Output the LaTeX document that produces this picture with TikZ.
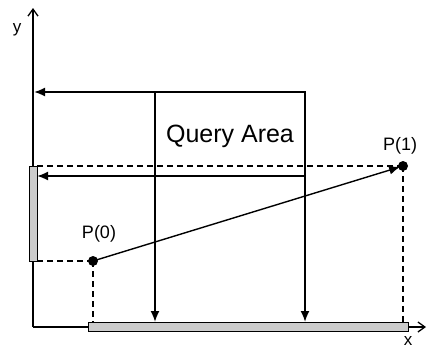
\documentclass[tikz,border=0pt]{standalone}
\usepackage{fontspec}
\setmainfont{Liberation Sans}
\usetikzlibrary{arrows.meta}
\begin{document}
\begin{tikzpicture}[x=1pt,y=-1pt,
  axis/.style={line width=1.3pt,-{Straight Barb[length=7pt,width=10pt]}},
  proj/.style={line width=1.8pt,-{Latex[length=11pt,width=9pt]}},
  guide/.style={line width=1.4pt,dash pattern=on 6pt off 4pt},
  barbox/.style={draw,line width=1pt,fill=gray!40},
  dot/.style={circle,fill,inner sep=0pt,minimum size=10pt},
  lbl/.style={font=\fontsize{18}{20}\selectfont},
  axlbl/.style={font=\fontsize{17}{19}\selectfont}]
\useasboundingbox (0,0) rectangle (428,349);

% axes
\coordinate (O) at (33,327);
\coordinate (Xend) at (426,327);
\coordinate (Yend) at (33,8);
\draw[axis] (O) -- (Xend);
\draw[axis] (O) -- (Yend);
\node[axlbl] (ylab) at (17,30) {y};
\node[axlbl] (xlab) at (408,341) {x};

% query rectangle
\coordinate (QA) at (155,92);
\coordinate (QB) at (305,92);
\coordinate (QC) at (305,176);
\coordinate (QD) at (155,176);
\draw[line width=1.3pt] (QA) rectangle (QC);
\node[font=\fontsize{25}{28}\selectfont] (qlab) at (230,136) {Query Area};

% projected intervals on the axes
\draw[barbox] (88,322) rectangle (408,331);
\draw[barbox] (29,166) rectangle (37,261);

% endpoints of the segment
\node[dot] (P0) at (93,261) {};
\node[dot] (P1) at (403,166) {};
\node[lbl] (P0lab) at (99,234) {P(0)};
\node[lbl] (P1lab) at (400,146) {P(1)};

% guide lines from the endpoints to the axes
\coordinate (P0y) at (37,261);
\coordinate (P0x) at (93,322);
\coordinate (P1y) at (37,166);
\coordinate (P1x) at (403,322);
\draw[guide] (P0.center) -- (P0y);
\draw[guide] (P0.center) -- (P0x);
\draw[guide] (P1.center) -- (P1y);
\draw[guide] (P1.center) -- (P1x);

% projections of the query rectangle
\coordinate (QAx) at (155,322);
\coordinate (QBx) at (305,322);
\coordinate (QBy) at (34,92);
\coordinate (QCy) at (37,176);
\draw[proj] (QB) -- (QBy);
\draw[proj] (QC) -- (QCy);
\draw[proj] (QA) -- (QAx);
\draw[proj] (QB) -- (QBx);

% the segment
\draw[line width=1.4pt,-{Latex[length=11pt,width=9pt]},shorten >=3pt] (P0.center) -- (P1.center);
\end{tikzpicture}
\end{document}
